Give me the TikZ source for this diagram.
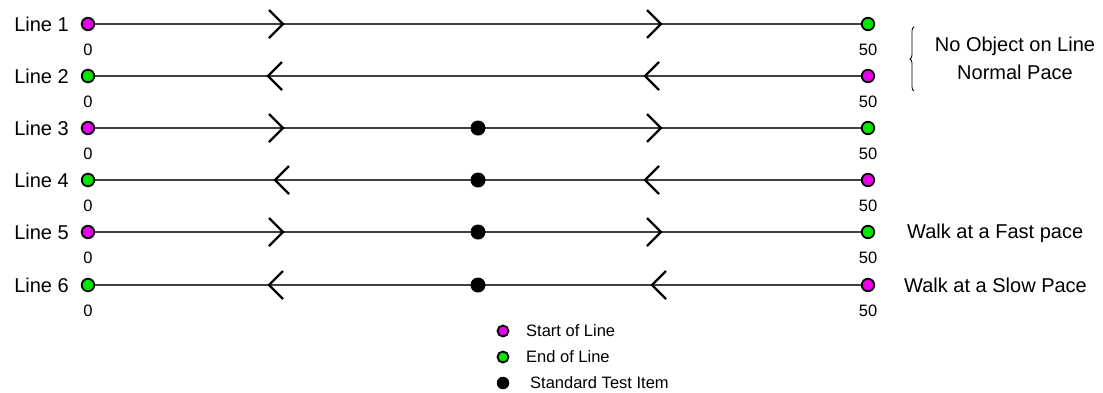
\documentclass[tikz,border=0pt]{standalone}
\usepackage{fontspec}
\setmainfont{Liberation Sans}
\usetikzlibrary{decorations.pathreplacing}
\definecolor{mag}{RGB}{235,0,235}
\definecolor{grn}{RGB}{0,230,0}
\begin{document}
\begin{tikzpicture}[x=1pt,y=-1pt,
  sdot/.style={circle,draw=black,line width=1.8pt,fill=mag,minimum size=12.5pt,inner sep=0pt},
  edot/.style={circle,draw=black,line width=1.8pt,fill=grn,minimum size=12.5pt,inner sep=0pt},
  bdot/.style={circle,fill=black,minimum size=15pt,inner sep=0pt},
  track/.style={line width=1.7pt,draw=black!75},
  chev/.style={line width=2.3pt,line join=miter},
  lbl/.style={font=\fontsize{20}{22}\selectfont,anchor=east,inner sep=0pt},
  num/.style={font=\fontsize{16.5}{18}\selectfont,inner sep=0pt},
  note/.style={font=\fontsize{20}{22}\selectfont,inner sep=0pt},
  leg/.style={font=\fontsize{16.5}{18}\selectfont,anchor=west,inner sep=0pt}]
\useasboundingbox (0,0) rectangle (1103,392);
% Line 1
\node[lbl] (l1) at (69,24) {Line 1};
\node[sdot] (a1) at (88,24) {};
\node[edot] (b1) at (868,24) {};
\draw[track] (a1) -- (b1);
\draw[chev] (269,10) -- (283,24) -- (269,38);
\draw[chev] (647,10) -- (661,24) -- (647,38);
\node[num] (z1) at (88,50) {0};
\node[num] (f1) at (868,50) {50};
% Line 2
\node[lbl] (l2) at (69,76) {Line 2};
\node[edot] (a2) at (88,76) {};
\node[sdot] (b2) at (868,76) {};
\draw[track] (a2) -- (b2);
\draw[chev] (282,62) -- (268,76) -- (282,90);
\draw[chev] (659,62) -- (645,76) -- (659,90);
\node[num] (z2) at (88,102) {0};
\node[num] (f2) at (868,102) {50};
% Line 3
\node[lbl] (l3) at (69,128) {Line 3};
\node[sdot] (a3) at (88,128) {};
\node[edot] (b3) at (868,128) {};
\draw[track] (a3) -- (b3);
\node[bdot] (c3) at (478,128) {};
\draw[chev] (269,114) -- (283,128) -- (269,142);
\draw[chev] (647,114) -- (661,128) -- (647,142);
\node[num] (z3) at (88,154) {0};
\node[num] (f3) at (868,154) {50};
% Line 4
\node[lbl] (l4) at (69,180) {Line 4};
\node[edot] (a4) at (88,180) {};
\node[sdot] (b4) at (868,180) {};
\draw[track] (a4) -- (b4);
\node[bdot] (c4) at (478,180) {};
\draw[chev] (289,166) -- (275,180) -- (289,194);
\draw[chev] (659,166) -- (645,180) -- (659,194);
\node[num] (z4) at (88,206) {0};
\node[num] (f4) at (868,206) {50};
% Line 5
\node[lbl] (l5) at (69,232) {Line 5};
\node[sdot] (a5) at (88,232) {};
\node[edot] (b5) at (868,232) {};
\draw[track] (a5) -- (b5);
\node[bdot] (c5) at (478,232) {};
\draw[chev] (269,218) -- (283,232) -- (269,246);
\draw[chev] (647,218) -- (661,232) -- (647,246);
\node[num] (z5) at (88,258) {0};
\node[num] (f5) at (868,258) {50};
% Line 6
\node[lbl] (l6) at (69,285) {Line 6};
\node[edot] (a6) at (88,285) {};
\node[sdot] (b6) at (868,285) {};
\draw[track] (a6) -- (b6);
\node[bdot] (c6) at (478,285) {};
\draw[chev] (283,271) -- (269,285) -- (283,299);
\draw[chev] (666,271) -- (652,285) -- (666,299);
\node[num] (z6) at (88,311) {0};
\node[num] (f6) at (868,311) {50};
% right notes
\draw[line width=0.8pt,decorate,decoration={brace,amplitude=4pt}]
  (914,91) -- (914,27);
\node[note,align=center] (n1) at (1015,58) {No Object on Line\\[6pt]Normal Pace};
\node[note,anchor=west] (n5) at (907,233) {Walk at a Fast pace};
\node[note,anchor=west] (n6) at (904,285) {Walk at a Slow Pace};
% legend
\node[sdot,minimum size=11pt] (ls) at (503,331) {};
\node[leg] (lst) at (526,331) {Start of Line};
\node[edot,minimum size=11pt] (le) at (503,357) {};
\node[leg] (let) at (526,357) {End of Line};
\node[bdot,minimum size=12.5pt] (lb) at (503,383) {};
\node[leg] (lbt) at (530,383) {Standard Test Item};
\end{tikzpicture}
\end{document}
